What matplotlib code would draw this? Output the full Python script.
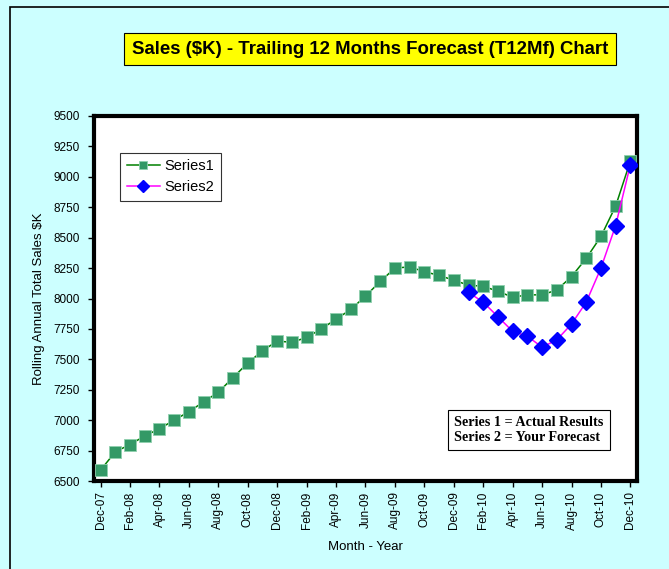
import matplotlib
matplotlib.use("Agg")
import matplotlib.pyplot as plt
from matplotlib.patches import Rectangle

months = [
    "Dec-07", "Jan-08", "Feb-08", "Mar-08", "Apr-08", "May-08", "Jun-08", "Jul-08",
    "Aug-08", "Sep-08", "Oct-08", "Nov-08", "Dec-08", "Jan-09", "Feb-09", "Mar-09",
    "Apr-09", "May-09", "Jun-09", "Jul-09", "Aug-09", "Sep-09", "Oct-09", "Nov-09",
    "Dec-09", "Jan-10", "Feb-10", "Mar-10", "Apr-10", "May-10", "Jun-10", "Jul-10",
    "Aug-10", "Sep-10", "Oct-10", "Nov-10", "Dec-10",
]
series1 = [
    6590, 6740, 6800, 6870, 6930, 7000, 7070, 7150, 7230, 7350, 7470, 7570,
    7650, 7640, 7680, 7750, 7830, 7910, 8020, 8140, 8250, 8260, 8220, 8190,
    8150, 8110, 8100, 8060, 8010, 8030, 8030, 8070, 8180, 8330, 8510, 8760,
    9130,
]
series2_start = 25  # Jan-10
series2 = [8050, 7970, 7850, 7730, 7690, 7600, 7660, 7790, 7970, 8250, 8600, 9100]
yticks = list(range(6500, 9501, 250))

BG = "#CCFFFF"
plt.rcParams["font.family"] = ["Liberation Sans", "DejaVu Sans"]

fig = plt.figure(figsize=(6.69, 5.69), dpi=100, facecolor=BG)

# outer chart border (only top/left fall inside the picture)
fig.add_artist(Rectangle((10 / 669, -0.1), 1.2, 1 - 7 / 569 + 0.1, transform=fig.transFigure,
                         fill=False, edgecolor="black", linewidth=1.2))

ax = fig.add_axes([94 / 669, 1 - 481 / 569, (637 - 94) / 669, (481 - 116) / 569])
ax.set_facecolor("white")

x1 = list(range(len(series1)))
x2 = list(range(series2_start, series2_start + len(series2)))
ax.plot(x1, series1, color="#008000", linewidth=1.1, marker="s", markersize=8.5,
        markerfacecolor="#339966", markeredgecolor="#8FD0AE", markeredgewidth=0.6,
        label="Series1", zorder=3)
ax.plot(x2, series2, color="#FF00FF", linewidth=1.1, marker="D", markersize=8.5,
        markerfacecolor="#0000FF", markeredgecolor="#0000FF", label="Series2", zorder=4)

ax.set_xlim(-0.45, 36.45)
ax.set_ylim(6500, 9500)
ax.set_yticks(yticks)
ax.set_yticklabels([str(v) for v in yticks], fontsize=8.5)
ax.set_xticks(x1[::2])
ax.set_xticklabels(months[::2], rotation=90, fontsize=8.5)
ax.tick_params(axis="both", direction="out", length=4, width=1, color="black")
ax.tick_params(axis="y", pad=6)
for s in ax.spines.values():
    s.set_linewidth(3)
    s.set_color("black")

ax.set_ylabel("Rolling Annual Total Sales $K", fontsize=9.5, labelpad=6)
ax.set_xlabel("Month - Year", fontsize=9.5, labelpad=8)

leg = ax.legend(loc="upper left", bbox_to_anchor=(0.048, 0.899), borderaxespad=0, fontsize=10.5,
                frameon=True, fancybox=False, edgecolor="black", handlelength=2.3, borderpad=0.45,
                labelspacing=0.45, handletextpad=0.3, markerscale=0.75)
leg.get_frame().set_linewidth(0.8)

ax.text(0.801, 0.14, "Series 1 = Actual Results\nSeries 2 = Your Forecast",
        transform=ax.transAxes, ha="center", va="center", fontsize=10.2, fontweight="bold",
        family=["Liberation Serif", "DejaVu Serif"], linespacing=1.2, multialignment="left",
        bbox=dict(boxstyle="square,pad=0.45", facecolor="white", edgecolor="black", linewidth=0.8))

fig.text(370 / 669, 1 - 49 / 569, "Sales ($K) - Trailing 12 Months Forecast (T12Mf) Chart",
         ha="center", va="center", fontsize=13.4, fontweight="bold",
         bbox=dict(boxstyle="square,pad=0.4", facecolor="#FFFF00", edgecolor="black", linewidth=0.8))

fig.savefig("out.png", dpi=100, facecolor=BG)
